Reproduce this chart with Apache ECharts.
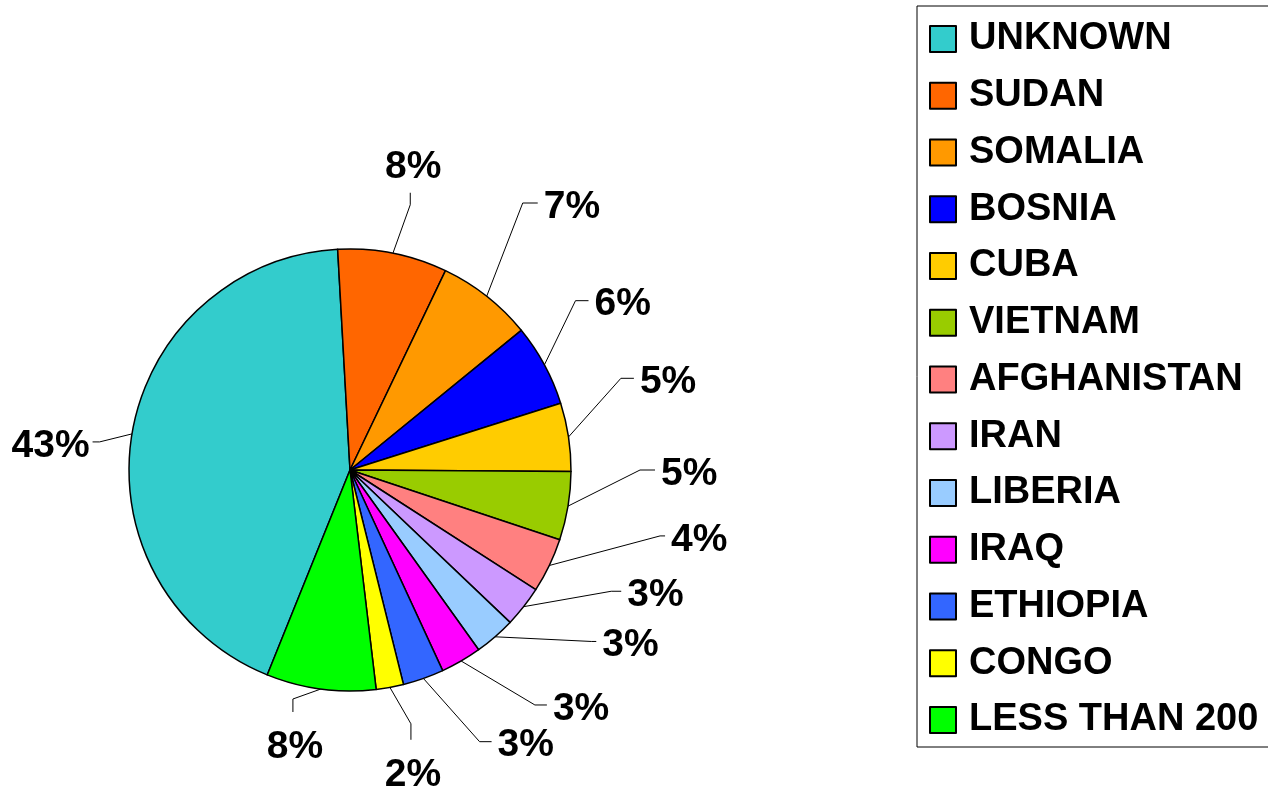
<!DOCTYPE html>
<html>
<head>
<meta charset="utf-8">
<script src="https://cdn.jsdelivr.net/npm/echarts@6/dist/echarts.min.js"></script>
<style>
  html, body { margin: 0; padding: 0; background: #fff; }
  #chart { width: 1268px; height: 793px; }
</style>
</head>
<body>
<div id="chart"></div>
<script>
// Country of origin shares (percent)
const countries = ['UNKNOWN', 'SUDAN', 'SOMALIA', 'BOSNIA', 'CUBA', 'VIETNAM', 'AFGHANISTAN',
  'IRAN', 'LIBERIA', 'IRAQ', 'ETHIOPIA', 'CONGO', 'LESS THAN 200'];
const shares = [43, 8, 7, 6, 5, 5, 4, 3, 3, 3, 3, 2, 8];
const sliceColors = ['#33CCCC', '#FF6600', '#FF9900', '#0000FF', '#FFCC00', '#99CC00', '#FF8080',
  '#CC99FF', '#99CCFF', '#FF00FF', '#3366FF', '#FFFF00', '#00FF00'];

const FONT = '"Liberation Sans", Arial, sans-serif';
const CX = 350, CY = 470, R = 221;

// Leader line shape per slice: [bend radius, angular shift of the bend (deg), tick length, tick direction]
const leaderShape = [
  [252, 3.0, 7, 'side'],
  [272, -1.6, 12, 'up'],
  [318, 5.3, 15, 'side'],
  [282, 8.5, 13, 'side'],
  [286, 10.1, 13, 'side'],
  [290, 9.4, 15, 'side'],
  [317, 13.6, 5, 'side'],
  [288, 13.3, 10, 'side'],
  [296, 13.6, 5, 'side'],
  [299, 8.0, 12, 'side'],
  [301, 6.1, 12, 'side'],
  [261, 3.1, 16, 'down'],
  [236, -6.4, 13, 'down']
];

function placeLabel(params) {
  const pts = params.labelLinePoints;
  if (!pts) return {};
  const edge = pts[0];
  const theta = Math.atan2(-(edge[1] - CY), edge[0] - CX);
  const [rb, dPhi, tick, mode] = leaderShape[params.dataIndex];
  const phi = theta + dPhi * Math.PI / 180;
  const bend = [CX + rb * Math.cos(phi), CY - rb * Math.sin(phi)];
  let end, out;
  if (mode === 'up') {
    end = [bend[0], bend[1] - tick];
    out = { x: end[0] + 3, y: end[1] - 6, align: 'center', verticalAlign: 'bottom' };
  } else if (mode === 'down') {
    end = [bend[0], bend[1] + tick];
    out = { x: end[0] + 2, y: end[1] + 15, align: 'center', verticalAlign: 'top' };
  } else {
    const s = Math.cos(phi) >= 0 ? 1 : -1;
    end = [bend[0] + s * tick, bend[1]];
    out = { x: end[0] + (s > 0 ? 6 : -3), y: end[1] + 4, align: s > 0 ? 'left' : 'right', verticalAlign: 'middle' };
  }
  out.labelLinePoints = [edge, bend, end];
  return out;
}

const chart = echarts.init(document.getElementById('chart'), null, { renderer: 'canvas' });

chart.setOption({
  animation: false,
  backgroundColor: '#fff',
  color: sliceColors,
  legend: {
    orient: 'vertical',
    left: 917,
    top: 6,
    padding: [14, 40, 8, 12],
    borderColor: '#000',
    borderWidth: 1,
    itemWidth: 26,
    itemHeight: 26,
    itemGap: 18.75,
    selectedMode: false,
    icon: 'rect',
    textStyle: {
      fontFamily: FONT,
      fontWeight: 'bold',
      fontSize: 38,
      lineHeight: 38,
      color: '#000',
      padding: [0, 0, 0, 8]
    },
    data: countries
  },
  series: [{
    type: 'pie',
    center: [CX, CY],
    radius: R,
    startAngle: 248,
    clockwise: true,
    avoidLabelOverlap: false,
    itemStyle: { borderColor: '#000', borderWidth: 1.5 },
    emphasis: { disabled: true },
    label: {
      show: true,
      position: 'outside',
      formatter: p => p.value + '%',
      fontFamily: FONT,
      fontWeight: 'bold',
      fontSize: 39,
      lineHeight: 40,
      color: '#000'
    },
    labelLine: {
      show: true,
      length: 30,
      length2: 10,
      lineStyle: { color: '#000', width: 1 }
    },
    labelLayout: placeLabel,
    data: countries.map((name, i) => ({ name, value: shares[i] }))
  }]
});
</script>
</body>
</html>
